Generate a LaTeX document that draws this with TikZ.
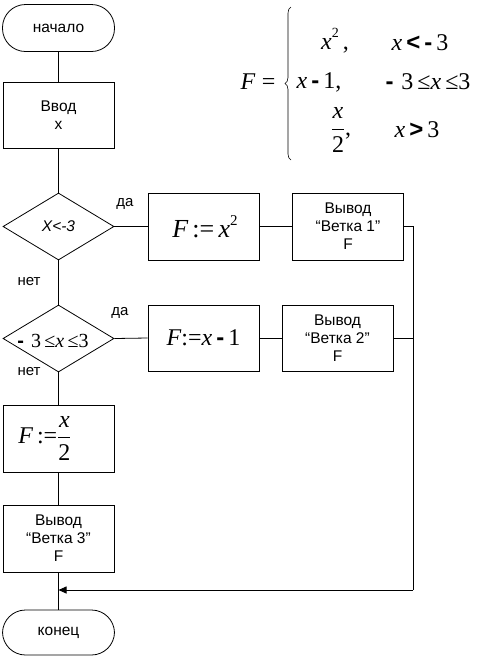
\documentclass[tikz,border=0pt]{standalone}
\usepackage{fontspec}
\setmainfont{Liberation Sans}
\newfontfamily\tnr{Liberation Serif}
\usetikzlibrary{shapes.geometric,arrows.meta,decorations.pathreplacing}
\newcommand{\vi}[1]{{\tnr\itshape #1}}
\newcommand{\nr}[1]{{\tnr #1}}
\newcommand{\smin}{\textbf{-}}
\newcommand{\sq}{\raisebox{0.5em}{\tnr\fontsize{14}{14}\selectfont 2}}
\newcommand{\fr}[2]{$\displaystyle\frac{\mbox{#1}}{\mbox{#2}}$}
\begin{document}
\begin{tikzpicture}[x=1pt,y=-1pt,
  every node/.style={inner sep=0pt},
  ln/.style={line width=0.8pt},
  box/.style={draw, line width=0.8pt, minimum width=111pt, minimum height=67pt, align=center, font=\fontsize{15.5}{18}\selectfont},
  term/.style={draw, line width=0.8pt, rounded corners=23pt, minimum width=112pt, minimum height=47pt, font=\fontsize{15.5}{18}\selectfont},
  dia/.style={draw, diamond, line width=0.8pt, minimum width=111pt, minimum height=67pt},
  lbl/.style={font=\fontsize{15}{18}\selectfont},
  big/.style={font=\fontsize{24}{28}\selectfont},
  arr/.style={line width=0.8pt, -{Triangle[length=8pt,width=7pt]}}
]
\useasboundingbox (0,0) rectangle (485,657);
% formula
\node[big] (fF) at (258,82) {\vi{F} \nr{=}};
\draw[line width=0.6pt, decorate, decoration={brace, amplitude=6pt}] (291,160) -- (291,7);
\node[big] (r1a) at (335,41) {\vi{x}\sq\,\nr{,}};
\node[big] (r1b) at (420,43) {\vi{x}\,\textbf{<}\,\smin\,\nr{3}};
\node[big] (r2a) at (319,82) {\vi{x}\,\smin\,\nr{1,}};
\node[big] (r2b) at (428,82) {\smin\hspace{8pt}\nr{3\,≤\vi{x}\,≤3}};
\node[big] (r3a) at (341,130) {\fr{\vi{x}}{\nr{2}}\nr{,}};
\node[big] (r3b) at (417,130) {\vi{x}\,\textbf{>}\,\nr{3}};
% flowchart
\node[term] (start) at (58.5,28) {начало};
\node[box] (inp) at (58.5,115) [minimum height=66pt] {Ввод\\x};
\node[dia] (d1) at (58.5,226.5) {};
\node[lbl, font=\fontsize{15.5}{18}\selectfont] (t1) at (58.5,226.5) {\itshape X<-3};
\node[box] (a1) at (203.5,226.5) {\hspace{3pt}\fontsize{26}{30}\selectfont\vi{F}\,\nr{:=}\,\vi{x}\raisebox{0.45em}{\tnr\fontsize{15}{15}\selectfont 2}};
\node[box] (o1) at (348,226.5) {Вывод\\“Ветка 1”\\F};
\node[dia] (d2) at (58.5,338.5) {};
\node[font=\fontsize{20}{20}\selectfont] (t2) at (53,341) {\smin\hspace{7pt}\nr{3\,≤\vi{x}\,≤3}};
\node[box] (a2) at (203.5,338) [minimum height=66pt] {\fontsize{24}{28}\selectfont\vi{F}\nr{:=}\vi{x}\,\smin\,\nr{1}};
\node[box] (o2) at (337.5,338) [minimum height=66pt] {Вывод\\“Ветка 2”\\F};
\node[box] (a3) at (58.5,438.5) {\fontsize{24}{28}\selectfont\vi{F}\,\nr{:=}\fr{\vi{x}}{\nr{2}}\hspace{27pt}};
\node[box] (o3) at (58.5,538.5) {Вывод\\“Ветка 3”\\F};
\node[term] (stop) at (58.5,632.5) [minimum height=45pt] {конец};
\coordinate (j) at (413,590);
% labels
\node[lbl] (y1) at (125,204) {да};
\node[lbl] (n1) at (29,282) {нет};
\node[lbl] (y2) at (120,313) {да};
\node[lbl] (n2) at (29,372) {нет};
% connectors
\draw[ln] (start) -- (inp);
\draw[ln] (inp) -- (d1);
\draw[ln] (d1.east) -- (a1.west);
\draw[ln] (a1) -- (o1);
\draw[ln] (o1.east) -| (j);
\draw[ln] (d1.south) -- (d2.north);
\draw[ln] (d2.east) -- (a2.west);
\draw[ln] (a2) -- (o2);
\draw[ln] (o2.east) -- (o2.east -| j);
\draw[ln] (d2.south) -- (a3.north);
\draw[ln] (a3) -- (o3);
\draw[ln] (o3) -- (stop);
\draw[arr] (j) -- (j -| stop);
\end{tikzpicture}
\end{document}
